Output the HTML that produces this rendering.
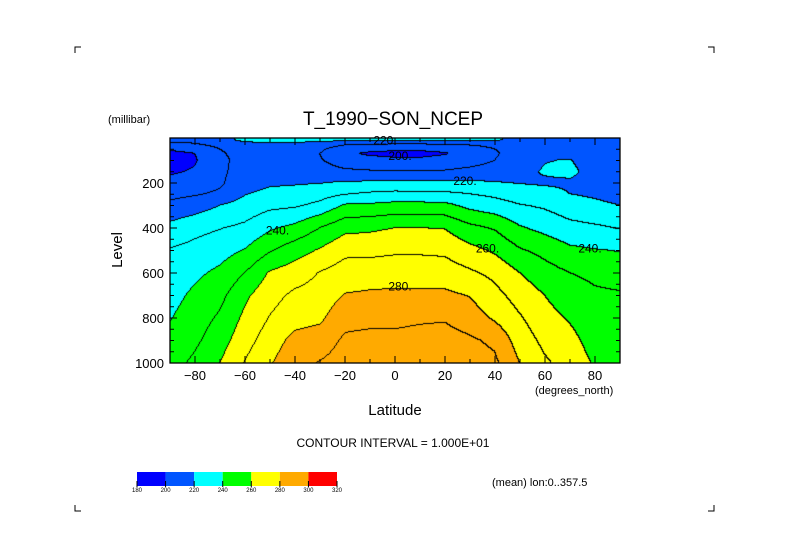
<!DOCTYPE html>
<html><head><meta charset="utf-8"><style>
html,body{margin:0;padding:0;background:#fff;}
#wrap{position:relative;width:789px;height:558px;overflow:hidden;font-family:"Liberation Sans",sans-serif;}
#plot{position:absolute;left:170px;top:138px;}
#ov{position:absolute;left:0;top:0;}
</style></head><body>
<div id="wrap">
<canvas id="plot" width="450" height="225"></canvas>
<svg id="ov" width="789" height="558"></svg>
</div>
<script>
const lats = [-90,-80,-70,-60,-50,-40,-30,-20,-10,0,10,20,30,40,50,60,70,80,90];
const levels = [1000,900,800,700,600,500,400,300,250,200,150,100,70,50,30,10];
const tempByLat = [
[246,243,239.4,236.5,233.6,230.7,223,212,207.4,203,198.5,196,198,201,208,212],
[252,248,245,242,238,233,227,215,209,205,201,199,200,203,209,213],
[260,255.5,251.5,247,242,236,229.5,220,211.5,208.5,208,208,209,210,213,216],
[270.5,266,262,258,250,240.5,232,224,219.5,216,214,213,213,214,217,222.5],
[279,275,270.5,266.5,261,249,238.5,227.5,222.5,218.5,216,214,214,215,218,223],
[287,283,276,272,265,255.5,242.5,228.5,223.5,219,215,212,212,214,218,223],
[290.5,285,278,274,270.5,261,250,232.5,226,219.5,215,211,210,212,216,222.5],
[294,291.5,287,280.5,274.5,267.5,257,241,229.5,221,212,204,201,204,211,222.5],
[296,292.5,287.5,281.5,275,267.5,258,241.5,231.5,221.5,211,202,199,202,210,222.5],
[297,292.5,287.5,282,275.5,268.5,260,243,232.5,222.5,211,201,198.5,201,209,222.5],
[300,293.5,288.5,282,275.5,268.5,260,243,232,222,211,201,198.5,201,209,222.5],
[299.5,294,289,282,275,268,259.5,242.5,232,222,211,202,199.5,202,210,222.5],
[295,291.5,285,279.5,271.5,263,252.5,237,230,221.5,213,205,203,205,211,222.5],
[292,288,278.5,273,267.5,258.5,249,234,228,220.5,215,210,209,210,213,221],
[280,275.5,271,266,260,251,241,230.5,225,219.5,217,215,214,214,215,218],
[271.5,267.5,263.5,260,254,247,237,228.5,224,218.5,221,219.5,216,215,214,215],
[266,263,259,254.5,250,242,233,224.5,220,218.5,222.5,220.5,216,213,212,213],
[259,256,254,251.5,248,240.5,231.5,222,218.5,216,216,215,214,213,212,213],
[256,254,253,251,246,239.5,229.5,220,216.5,214.5,214,213,212,212,211,212]
];
const fillLevels = [180,200,220,240,260,280,300,320];
const fillColors = ['#0000ff','#0055ff','#00ffff','#00ff00','#ffff00','#ffaa00','#ff0000'];
const xTicks = [-80,-60,-40,-20,0,20,40,60,80];
const yTicks = [200,400,600,800,1000];
const lineLabels = [["220.",-4,10],["200.",2,80],["220.",28,190],["240.",-47,410],["260.",37,490],["240.",78,490],["280.",2,660]];

const X0=170,Y0=138,W=450,H=225;
function xOf(lat){return X0+(lat+90)/180*W;}
function yOf(p){return Y0+p/1000*H;}
function latOf(x){return (x-X0)/W*180-90;}
function pOf(y){return (y-Y0)/H*1000;}
function tempAt(lat,p){
  let i=Math.min(lats.length-2,Math.max(0,Math.floor((lat-lats[0])/10)));
  let fx=(lat-lats[i])/(lats[i+1]-lats[i]); fx=Math.max(0,Math.min(1,fx));
  let j=0; const pc=Math.max(levels[levels.length-1],Math.min(levels[0],p));
  for(j=0;j<levels.length-2;j++){ if(pc>=levels[j+1]) break; }
  let fy=(levels[j]-pc)/(levels[j]-levels[j+1]);
  const a=tempByLat[i][j]*(1-fx)+tempByLat[i+1][j]*fx;
  const b=tempByLat[i][j+1]*(1-fx)+tempByLat[i+1][j+1]*fx;
  return a*(1-fy)+b*fy;
}
const cv=document.getElementById('plot'),ctx=cv.getContext('2d');
const T=[];
for(let y=0;y<H;y++){T.push([]);for(let x=0;x<W;x++){T[y].push(tempAt(latOf(X0+x+0.5),pOf(Y0+y+0.5)));}}
function hex(c){return [parseInt(c.slice(1,3),16),parseInt(c.slice(3,5),16),parseInt(c.slice(5,7),16)];}
const rgb=fillColors.map(hex);
const img=ctx.createImageData(W,H);
for(let y=0;y<H;y++)for(let x=0;x<W;x++){
  const t=T[y][x];
  let k=Math.floor((t-fillLevels[0])/20);k=Math.max(0,Math.min(rgb.length-1,k));
  let c=rgb[k];
  const c10=Math.floor(t/10);
  if((x+1<W&&Math.floor(T[y][x+1]/10)!==c10)||(y+1<H&&Math.floor(T[y+1][x]/10)!==c10)) c=[0,0,0];
  const o=(y*W+x)*4; img.data[o]=c[0];img.data[o+1]=c[1];img.data[o+2]=c[2];img.data[o+3]=255;
}
ctx.putImageData(img,0,0);

const svg=document.getElementById('ov');const NS='http://www.w3.org/2000/svg';
function mk(tag,attrs,txt){const e=document.createElementNS(NS,tag);for(const k in attrs)e.setAttribute(k,attrs[k]);if(txt!==undefined)e.textContent=txt;svg.appendChild(e);return e;}
let e;
e=mk('rect',{x:X0,y:Y0,width:W,height:H,fill:'none',stroke:'#000','stroke-width':1.3});


for(let lat=-90;lat<=90;lat+=10){const x=xOf(lat);const L=(lat%20===0)?7:4;
  e=mk('line',{x1:x,y1:Y0+H,x2:x,y2:Y0+H-L,stroke:'#000'});
  
  
  e=mk('line',{x1:x,y1:Y0,x2:x,y2:Y0+L,stroke:'#000'});
  
  }
for(let p=0;p<=1000;p+=50){const y=yOf(p);const L=(p%200===0)?7:4;
  e=mk('line',{x1:X0,y1:y,x2:X0+L,y2:y,stroke:'#000'});
  
  
  e=mk('line',{x1:X0+W,y1:y,x2:X0+W-L,y2:y,stroke:'#000'});
  
  }
xTicks.forEach(v=>{e=mk('text',{x:xOf(v),y:380,'font-size':13,'text-anchor':'middle'},(v<0?'\u2212'+(-v):String(v)));
  
  });
yTicks.forEach(v=>{e=mk('text',{x:164,y:yOf(v)+5,'font-size':13,'text-anchor':'end'},String(v));
  
  });
lineLabels.forEach(l=>{e=mk('text',{x:xOf(l[1]),y:yOf(l[2])+4,'font-size':12,'text-anchor':'middle'},l[0]);
  
  });
e=mk('text',{x:393,y:125,'font-size':19,'text-anchor':'middle'},'T_1990\u2212SON_NCEP');


e=mk('text',{x:108,y:123,'font-size':11},'(millibar)');


e=mk('text',{x:0,y:0,'font-size':15,'text-anchor':'middle',transform:'translate(122,250) rotate(-90)'},'Level');


e=mk('text',{x:395,y:415,'font-size':15,'text-anchor':'middle'},'Latitude');


e=mk('text',{x:535,y:394,'font-size':11},'(degrees_north)');


e=mk('text',{x:393,y:447,'font-size':12,'text-anchor':'middle'},'CONTOUR INTERVAL = 1.000E+01');


e=mk('text',{x:492,y:486,'font-size':11},'(mean) lon:0..357.5');


const CBX=137,CBW=200/7;
fillColors.forEach((c,i)=>{e=mk('rect',{x:CBX+i*CBW,y:472,width:CBW,height:14,fill:c});
  
  });
fillLevels.forEach((v,i)=>{const x=CBX+i*CBW;
  e=mk('line',{x1:x,y1:481,x2:x,y2:487,stroke:'#000'});
  
  
  e=mk('text',{x:x,y:492,'font-size':6,'text-anchor':'middle'},String(v));
  
  });
[[75,47,1,1],[714,47,-1,1],[75,511,1,-1],[714,511,-1,-1]].forEach(c=>{
  e=mk('path',{d:`M${c[0]} ${c[1]+6*c[3]} L${c[0]} ${c[1]} L${c[0]+6*c[2]} ${c[1]}`,fill:'none',stroke:'#000'});
  
  });
</script>
</body></html>
